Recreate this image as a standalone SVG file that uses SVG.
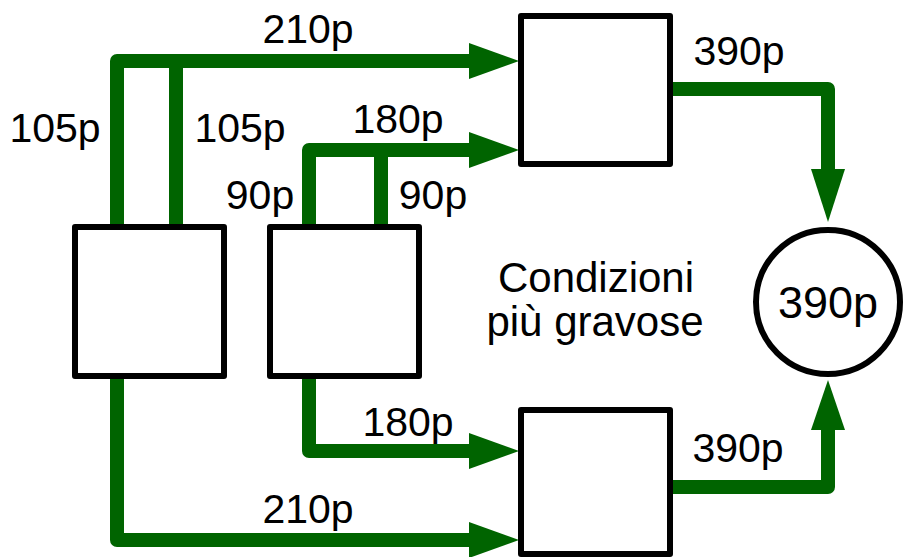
<svg xmlns="http://www.w3.org/2000/svg" width="904" height="557" viewBox="0 0 904 557">
<defs>
<style>
.box{fill:#fff;stroke:#000;stroke-width:6;stroke-linejoin:round}
.flow{fill:none;stroke:#006400;stroke-width:14;stroke-linejoin:round}
.head{fill:#006400}
text{font-family:"Liberation Sans",Arial,sans-serif;font-size:41px;fill:#000;text-anchor:middle}
</style>
</defs>
<rect width="904" height="557" fill="#fff"/>
<g id="connectors">
<path class="flow" d="M117,227 V61 H472"/>
<path class="flow" d="M176,227 V61"/>
<path class="head" d="M469,43 L519,61 L469,79 Z"/>
<path class="flow" d="M309,227 V150 H472"/>
<path class="flow" d="M381,227 V150"/>
<path class="head" d="M469,132 L519,150 L469,168 Z"/>
<path class="flow" d="M309,376 V451 H472"/>
<path class="head" d="M469,433 L519,451 L469,469 Z"/>
<path class="flow" d="M117,376 V540 H472"/>
<path class="head" d="M469,522 L519,540 L469,558 Z"/>
<path class="flow" d="M670,89 H828 V172"/>
<path class="head" d="M811,169 L828,222 L845,169 Z"/>
<path class="flow" d="M670,487 H828 V427"/>
<path class="head" d="M811,430 L828,380 L845,430 Z"/>
</g>
<g id="nodeA"><rect class="box" x="75" y="227" width="149" height="149"/></g>
<g id="nodeB"><rect class="box" x="270" y="227" width="149" height="149"/></g>
<g id="nodeC"><rect class="box" x="521" y="16" width="149" height="148"/></g>
<g id="nodeD"><rect class="box" x="521" y="410" width="149" height="144"/></g>
<g id="nodeOut"><circle cx="828" cy="302" r="72" fill="#fff" stroke="#000" stroke-width="6"/><text x="828" y="318" style="font-size:45px">390p</text></g>
<g id="labels">
<text x="308" y="43">210p</text>
<text x="55" y="142">105p</text>
<text x="240" y="142">105p</text>
<text x="398" y="133">180p</text>
<text x="260" y="209">90p</text>
<text x="433" y="209">90p</text>
<text x="739" y="65">390p</text>
<text x="408" y="436">180p</text>
<text x="308" y="523">210p</text>
<text x="738" y="462">390p</text>
<text x="596" y="292" style="font-size:42px">Condizioni</text>
<text x="595" y="336" style="font-size:42px">più gravose</text>
</g>
</svg>
